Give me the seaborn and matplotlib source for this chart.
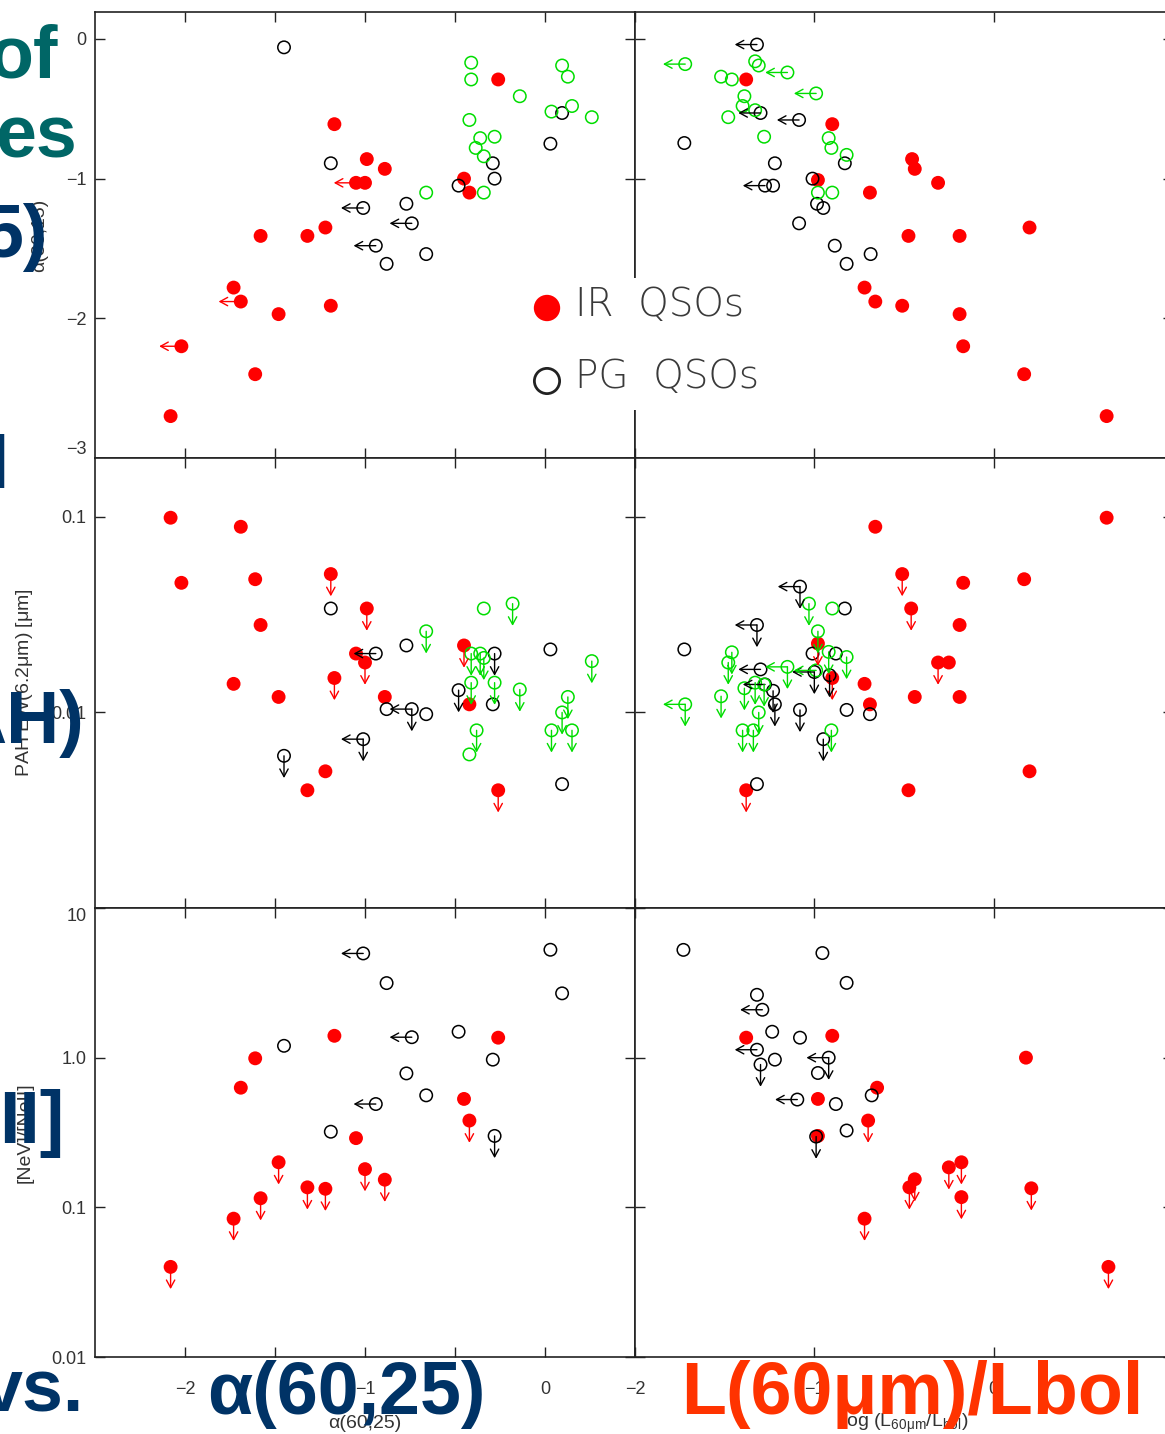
import numpy as np
import pandas as pd
import matplotlib
matplotlib.use("Agg")
import matplotlib.pyplot as plt
import seaborn as sns
from matplotlib.ticker import FixedLocator, FixedFormatter, NullLocator

sns.set_theme(style="white")
plt.rcParams["font.family"] = ["Liberation Sans", "DejaVu Sans"]
plt.rcParams["mathtext.default"] = "regular"

# ---------------- data ----------------
# Panel 1: alpha(30,15) vs alpha(60,25)
p1_ir_x = [-2.08, -2.02, -1.61, -1.73, -1.69, -1.48, -1.19, -1.58, -1.32, -1.22, -1.17, -0.99, -0.89, -1.05, -1.00, -0.45, -0.42, -0.26]
p1_ir_y = [-2.70, -2.20, -2.40, -1.78, -1.88, -1.97, -1.91, -1.41, -1.41, -1.35, -0.61, -0.86, -0.93, -1.03, -1.03, -1.00, -1.10, -0.29]
p1_ir_lim = ["", "L", "", "", "L", "", "", "", "", "", "", "", "", "L", "", "", "", ""]
p1_pg_x = [-1.45, -1.19, -1.01, -0.77, -0.74, -0.94, -0.88, -0.66, -0.48, -0.29, -0.28, 0.03, 0.095]
p1_pg_y = [-0.06, -0.89, -1.21, -1.18, -1.32, -1.48, -1.61, -1.54, -1.05, -0.89, -1.00, -0.75, -0.53]
p1_pg_lim = ["", "", "L", "", "L", "L", "", "", "", "", "", "", ""]
p1_gr_x = [-0.41, -0.41, -0.42, -0.36, -0.28, -0.385, -0.34, -0.34, -0.66, -0.14, 0.036, 0.095, 0.127, 0.15, 0.26]
p1_gr_y = [-0.17, -0.29, -0.58, -0.71, -0.70, -0.78, -0.84, -1.10, -1.10, -0.41, -0.52, -0.19, -0.27, -0.48, -0.56]
p1_gr_lim = [""] * 15

# Panel 2: alpha(30,15) vs log(L60/Lbol)
p2_ir_x = [-1.38, -0.90, -0.455, -0.44, -0.31, -0.69, -0.98, 0.20, -0.475, -0.19, -0.72, -0.66, -0.51, -0.19, -0.17, 0.17, 0.63]
p2_ir_y = [-0.29, -0.61, -0.86, -0.93, -1.03, -1.10, -1.01, -1.35, -1.41, -1.41, -1.78, -1.88, -1.91, -1.97, -2.20, -2.40, -2.70]
p2_ir_lim = [""] * 17
p2_pg_x = [-1.32, -1.725, -1.30, -1.085, -1.22, -0.83, -1.01, -1.275, -1.23, -0.985, -0.95, -1.085, -0.886, -0.686, -0.82]
p2_pg_y = [-0.04, -0.745, -0.53, -0.58, -0.89, -0.89, -1.00, -1.05, -1.05, -1.18, -1.21, -1.32, -1.48, -1.54, -1.61]
p2_pg_lim = ["L", "", "L", "L", "", "", "", "L", "", "", "", "", "", "", ""]
p2_gr_x = [-1.72, -1.33, -1.31, -1.15, -1.52, -1.46, -0.99, -1.39, -1.40, -1.33, -1.48, -1.28, -0.92, -0.905, -0.82, -0.98, -0.90]
p2_gr_y = [-0.18, -0.16, -0.19, -0.24, -0.27, -0.29, -0.39, -0.41, -0.48, -0.51, -0.56, -0.70, -0.71, -0.78, -0.83, -1.10, -1.10]
p2_gr_lim = ["L", "", "", "L", "", "", "L", "", "", "", "", "", "", "", "", "", ""]

# Panel 3: PAH EW(6.2um) vs alpha(60,25)
p3_ir_x = [-2.08, -1.69, -2.02, -1.61, -1.19, -0.99, -1.58, -1.05, -1.00, -1.17, -1.73, -1.48, -0.89, -0.45, -0.42, -1.22, -1.32, -0.26]
p3_ir_y = [0.099, 0.089, 0.046, 0.048, 0.051, 0.034, 0.028, 0.020, 0.018, 0.015, 0.014, 0.012, 0.012, 0.022, 0.011, 0.0050, 0.0040, 0.0040]
p3_ir_lim = ["", "", "", "", "D", "D", "", "", "D", "D", "", "", "", "D", "", "", "", "D"]
p3_pg_x = [-1.19, -0.94, -0.77, -0.28, 0.03, -0.48, -0.29, -0.88, -0.74, -0.66, -1.01, -1.45, 0.095]
p3_pg_y = [0.034, 0.020, 0.022, 0.020, 0.021, 0.013, 0.011, 0.0104, 0.0104, 0.0098, 0.0073, 0.0060, 0.0043]
p3_pg_lim = ["", "L", "", "D", "", "D", "", "", "LD", "", "LD", "D", ""]
p3_gr_x = [-0.34, -0.18, -0.66, -0.41, -0.36, -0.34, -0.41, -0.28, -0.14, 0.26, 0.127, 0.095, -0.38, -0.42, 0.036, 0.15]
p3_gr_y = [0.034, 0.036, 0.026, 0.020, 0.020, 0.019, 0.0142, 0.0142, 0.0131, 0.0183, 0.012, 0.010, 0.0081, 0.0061, 0.0081, 0.0081]
p3_gr_lim = ["", "D", "D", "D", "D", "D", "D", "D", "D", "D", "D", "D", "D", "", "D", "D"]

# Panel 4: PAH EW(6.2um) vs log(L60/Lbol)
p4_ir_x = [-0.66, 0.63, -0.51, -0.17, 0.17, -0.46, -0.19, -0.98, -0.31, -0.25, -0.90, -0.72, -0.69, -0.44, -0.19, 0.20, -0.475, -1.38]
p4_ir_y = [0.089, 0.099, 0.051, 0.046, 0.048, 0.034, 0.028, 0.0225, 0.018, 0.018, 0.015, 0.014, 0.011, 0.012, 0.012, 0.0050, 0.0040, 0.0040]
p4_ir_lim = ["", "", "D", "", "", "D", "", "D", "D", "", "D", "", "", "", "", "", "", "D"]
p4_pg_x = [-1.08, -0.83, -1.32, -1.725, -1.01, -0.88, -1.30, -1.00, -0.915, -1.275, -1.23, -1.22, -1.08, -0.82, -0.69, -0.95, -1.32]
p4_pg_y = [0.044, 0.034, 0.028, 0.021, 0.020, 0.020, 0.0166, 0.0161, 0.0155, 0.0139, 0.0129, 0.011, 0.0103, 0.0103, 0.0098, 0.0073, 0.0043]
p4_pg_lim = ["LD", "", "LD", "", "", "", "L", "LD", "D", "L", "D", "D", "D", "", "", "D", ""]
p4_gr_x = [-1.03, -0.90, -0.98, -0.92, -0.82, -1.46, -1.48, -1.15, -0.99, -1.39, -1.33, -1.28, -1.52, -1.72, -1.31, -1.40, -1.34, -0.905]
p4_gr_y = [0.036, 0.034, 0.026, 0.0204, 0.0192, 0.0203, 0.018, 0.0171, 0.0164, 0.0133, 0.0142, 0.0139, 0.0121, 0.011, 0.010, 0.0081, 0.0081, 0.0081]
p4_gr_lim = ["D", "", "D", "D", "D", "D", "D", "LD", "L", "D", "D", "D", "D", "LD", "D", "D", "D", "D"]

# Panel 5: [NeV]/[NeII] vs alpha(60,25)
p5_ir_x = [-1.17, -1.61, -1.69, -0.26, -0.45, -0.42, -1.05, -1.48, -1.00, -0.89, -1.32, -1.22, -1.58, -1.73, -2.08]
p5_ir_y = [1.40, 0.99, 0.63, 1.36, 0.53, 0.38, 0.29, 0.20, 0.18, 0.153, 0.136, 0.133, 0.115, 0.084, 0.040]
p5_ir_lim = ["", "", "", "", "", "D", "", "D", "D", "D", "D", "D", "D", "D", "D"]
p5_pg_x = [-1.01, -0.88, 0.03, 0.095, -1.45, -0.74, -0.48, -0.29, -0.77, -0.66, -0.94, -1.19, -0.28]
p5_pg_y = [4.97, 3.15, 5.26, 2.69, 1.20, 1.37, 1.49, 0.97, 0.785, 0.56, 0.49, 0.32, 0.30]
p5_pg_lim = ["L", "", "", "", "", "L", "", "", "", "", "L", "", "D"]

# Panel 6: [NeV]/[NeII] vs log(L60/Lbol)
p6_ir_x = [-1.38, -0.90, 0.18, -0.65, -0.98, -0.70, -0.98, -0.44, -0.47, -0.25, -0.18, -0.18, 0.21, -0.72, 0.64]
p6_ir_y = [1.36, 1.40, 1.00, 0.63, 0.53, 0.38, 0.30, 0.154, 0.136, 0.185, 0.20, 0.117, 0.134, 0.084, 0.040]
p6_ir_lim = ["", "", "", "", "", "D", "", "D", "D", "D", "D", "D", "D", "D", "D"]
p6_pg_x = [-1.73, -0.955, -0.82, -1.32, -1.29, -1.235, -1.08, -1.32, -1.22, -1.30, -0.92, -0.98, -1.095, -0.88, -0.82, -0.99, -0.68]
p6_pg_y = [5.25, 5.0, 3.16, 2.63, 2.09, 1.49, 1.36, 1.13, 0.97, 0.90, 1.00, 0.79, 0.525, 0.49, 0.326, 0.297, 0.56]
p6_pg_lim = ["", "", "", "", "L", "", "", "L", "", "D", "LD", "", "L", "", "", "D", ""]

left_xticks = [-2.0, -1.5, -1.0, -0.5, 0.0]
left_xlabels = ["\u22122", "", "\u22121", "", "0"]
right_xticks = [-2.0, -1.0, 0.0]
right_xlabels = ["\u22122", "\u22121", "0"]
top_yticks = [-3, -2, -1, 0]
top_ylabels = ["\u22123", "\u22122", "\u22121", "0"]
mid_yticks = [0.01, 0.1]
mid_ylabels = ["0.01", "0.1"]
bot_yticks = [0.01, 0.1, 1.0, 10.0]
bot_ylabels = ["0.01", "0.1", "1.0", "10"]

RED = "#ff0000"
GREEN = "#00dd00"
BLACK = "#000000"
TXT = "#333333"

# ---------------- figure ----------------
W, H = 1165, 1434
fig = plt.figure(figsize=(W / 100, H / 100), dpi=100)
fig.patch.set_facecolor("white")


def axpos(l, t, w, h):
    return [l / W, 1 - (t + h) / H, w / W, h / H]


ax1 = fig.add_axes(axpos(95, 12, 540, 446))
ax2 = fig.add_axes(axpos(635, 12, 538, 446))
ax3 = fig.add_axes(axpos(95, 458, 540, 450))
ax4 = fig.add_axes(axpos(635, 458, 538, 450))
ax5 = fig.add_axes(axpos(95, 908, 540, 449))
ax6 = fig.add_axes(axpos(635, 908, 538, 449))

ARR = 16  # arrow length in points


def draw_arrows(ax, x, y, lim, col):
    for xi, yi, f in zip(x, y, lim):
        props = dict(arrowstyle="<-,head_length=0.55,head_width=0.3", color=col,
                     lw=1.0, shrinkA=0, shrinkB=0, mutation_scale=10)
        if "L" in f:
            ax.annotate("", xy=(xi, yi), xytext=(-ARR, 0), textcoords="offset points",
                        arrowprops=props, annotation_clip=False, zorder=4)
        if "D" in f:
            ax.annotate("", xy=(xi, yi), xytext=(0, -ARR), textcoords="offset points",
                        arrowprops=props, annotation_clip=False, zorder=4)


def draw_group(ax, x, y, lim, kind):
    df = pd.DataFrame({"x": x, "y": y})
    if kind == "ir":
        sns.scatterplot(data=df, x="x", y="y", ax=ax, color=RED, s=100,
                        edgecolor="none", linewidth=0, zorder=3, legend=False)
        draw_arrows(ax, x, y, lim, RED)
    else:
        col = BLACK if kind == "pg" else GREEN
        sns.scatterplot(data=df, x="x", y="y", ax=ax, facecolor="none",
                        edgecolor=col, linewidth=1.1, s=80, zorder=3, legend=False)
        draw_arrows(ax, x, y, lim, col)


draw_group(ax1, p1_ir_x, p1_ir_y, p1_ir_lim, "ir")
draw_group(ax1, p1_pg_x, p1_pg_y, p1_pg_lim, "pg")
draw_group(ax1, p1_gr_x, p1_gr_y, p1_gr_lim, "gr")
draw_group(ax2, p2_ir_x, p2_ir_y, p2_ir_lim, "ir")
draw_group(ax2, p2_pg_x, p2_pg_y, p2_pg_lim, "pg")
draw_group(ax2, p2_gr_x, p2_gr_y, p2_gr_lim, "gr")
draw_group(ax3, p3_ir_x, p3_ir_y, p3_ir_lim, "ir")
draw_group(ax3, p3_pg_x, p3_pg_y, p3_pg_lim, "pg")
draw_group(ax3, p3_gr_x, p3_gr_y, p3_gr_lim, "gr")
draw_group(ax4, p4_ir_x, p4_ir_y, p4_ir_lim, "ir")
draw_group(ax4, p4_pg_x, p4_pg_y, p4_pg_lim, "pg")
draw_group(ax4, p4_gr_x, p4_gr_y, p4_gr_lim, "gr")
draw_group(ax5, p5_ir_x, p5_ir_y, p5_ir_lim, "ir")
draw_group(ax5, p5_pg_x, p5_pg_y, p5_pg_lim, "pg")
draw_group(ax6, p6_ir_x, p6_ir_y, p6_ir_lim, "ir")
draw_group(ax6, p6_pg_x, p6_pg_y, p6_pg_lim, "pg")

for ax in (ax3, ax4, ax5, ax6):
    ax.set_yscale("log")

for ax in (ax1, ax3, ax5):
    ax.set_xlim(-2.5, 0.5)
    ax.xaxis.set_major_locator(FixedLocator(left_xticks))
for ax in (ax2, ax4, ax6):
    ax.set_xlim(-2.0, 1.0)
    ax.xaxis.set_major_locator(FixedLocator(right_xticks))
for ax in (ax1, ax2):
    ax.set_ylim(-3.0, 0.193)
    ax.yaxis.set_major_locator(FixedLocator(top_yticks))
for ax in (ax3, ax4):
    ax.set_ylim(0.001, 0.2)
    ax.yaxis.set_major_locator(FixedLocator(mid_yticks))
for ax in (ax5, ax6):
    ax.set_ylim(0.01, 10)
    ax.yaxis.set_major_locator(FixedLocator(bot_yticks))

for ax in (ax1, ax2, ax3, ax4, ax5, ax6):
    ax.set_facecolor("white")
    ax.yaxis.set_minor_locator(NullLocator())
    ax.xaxis.set_minor_locator(NullLocator())
    ax.tick_params(axis="both", which="both", direction="in", top=True, right=True,
                   bottom=True, left=True, length=7.5, width=1.0, color="#222222",
                   labelsize=13, labelcolor=TXT)
    ax.tick_params(axis="y", pad=6)
    ax.tick_params(axis="x", pad=17)
    for sp in ax.spines.values():
        sp.set_color("#222222")
        sp.set_linewidth(1.2)
    ax.set_xlabel("")
    ax.set_ylabel("")
    ax.tick_params(labelbottom=False, labelleft=False)

ax1.yaxis.set_major_formatter(FixedFormatter(top_ylabels))
ax3.yaxis.set_major_formatter(FixedFormatter(mid_ylabels))
ax5.yaxis.set_major_formatter(FixedFormatter(bot_ylabels))
ax5.xaxis.set_major_formatter(FixedFormatter(left_xlabels))
ax6.xaxis.set_major_formatter(FixedFormatter(right_xlabels))
for ax in (ax1, ax3, ax5):
    ax.tick_params(labelleft=True)
for ax in (ax5, ax6):
    ax.tick_params(labelbottom=True)

ax1.yaxis.get_major_ticks()[0].label1.set_verticalalignment("bottom")
ax5.yaxis.get_major_ticks()[3].label1.set_verticalalignment("top")

# axis labels
ax1.set_ylabel("\u03b1(30,15)", fontsize=14, color=TXT)
ax1.yaxis.set_label_coords((40 - 95) / 540, 0.5)
ax3.set_ylabel("PAH EW(6.2$\\mu$m) [$\\mu$m]", fontsize=14, color=TXT)
ax3.yaxis.set_label_coords((25 - 95) / 540, 0.5)
ax5.set_ylabel("[NeV]/[NeII]", fontsize=14, color=TXT)
ax5.yaxis.set_label_coords((25 - 95) / 540, 0.5)
ax5.set_xlabel("\u03b1(60,25)", fontsize=14, color=TXT)
ax5.xaxis.set_label_coords(0.5, (1357 - 1423) / 449)
ax6.set_xlabel("log (L$_{60\\mu m}$/L$_{bol}$)", fontsize=14, color=TXT)
ax6.xaxis.set_label_coords((905 - 635) / 538, (1357 - 1423) / 449)
for lab in (ax1.yaxis.label, ax3.yaxis.label, ax5.yaxis.label):
    lab.set_verticalalignment("center")
for lab in (ax5.xaxis.label, ax6.xaxis.label):
    lab.set_verticalalignment("center")

# legend box (covers the panel divider)
axl = fig.add_axes(axpos(525, 278, 245, 132))
axl.set_xlim(0, 245)
axl.set_ylim(132, 0)
axl.set_facecolor("white")
axl.set_axis_off()
axl.add_patch(plt.Rectangle((0, 0), 245, 132, facecolor="white", edgecolor="none", zorder=0))
axl.scatter([22], [30], s=360, color=RED, edgecolor="none", zorder=2)
axl.scatter([22], [103], s=330, facecolor="none", edgecolor="#222222", linewidth=2.0, zorder=2)
axl.text(50, 27, "IR  QSOs", fontsize=28, color="#3a3a3a", va="center", ha="left",
         family=["DejaVu Sans"], fontweight="light")
axl.text(50, 99, "PG  QSOs", fontsize=28, color="#3a3a3a", va="center", ha="left",
         family=["DejaVu Sans"], fontweight="light")

# overlay slide text
TEAL = "#006666"
NAVY = "#003366"
ORANGE = "#ff3300"


def big(x, y, s, col, ha="right"):
    fig.text(x / W, 1 - y / H, s, ha=ha, va="baseline", fontsize=53, fontweight="bold",
             color=col, family=["Liberation Sans", "DejaVu Sans"], zorder=10)


big(58, 77, "of", TEAL)
big(77, 158, "es", TEAL)
big(48, 257, "5)", NAVY)
big(9, 488, "l", NAVY)
big(84, 743, "AH)", NAVY)
big(64, 1143, "II]", NAVY)
big(84, 1412, "vs.", NAVY)
big(207, 1414, "\u03b1(60,25)", NAVY, ha="left")
big(681, 1414, "L(60\u03bcm)/Lbol", ORANGE, ha="left")

fig.savefig("out.png", dpi=100, facecolor="white")
